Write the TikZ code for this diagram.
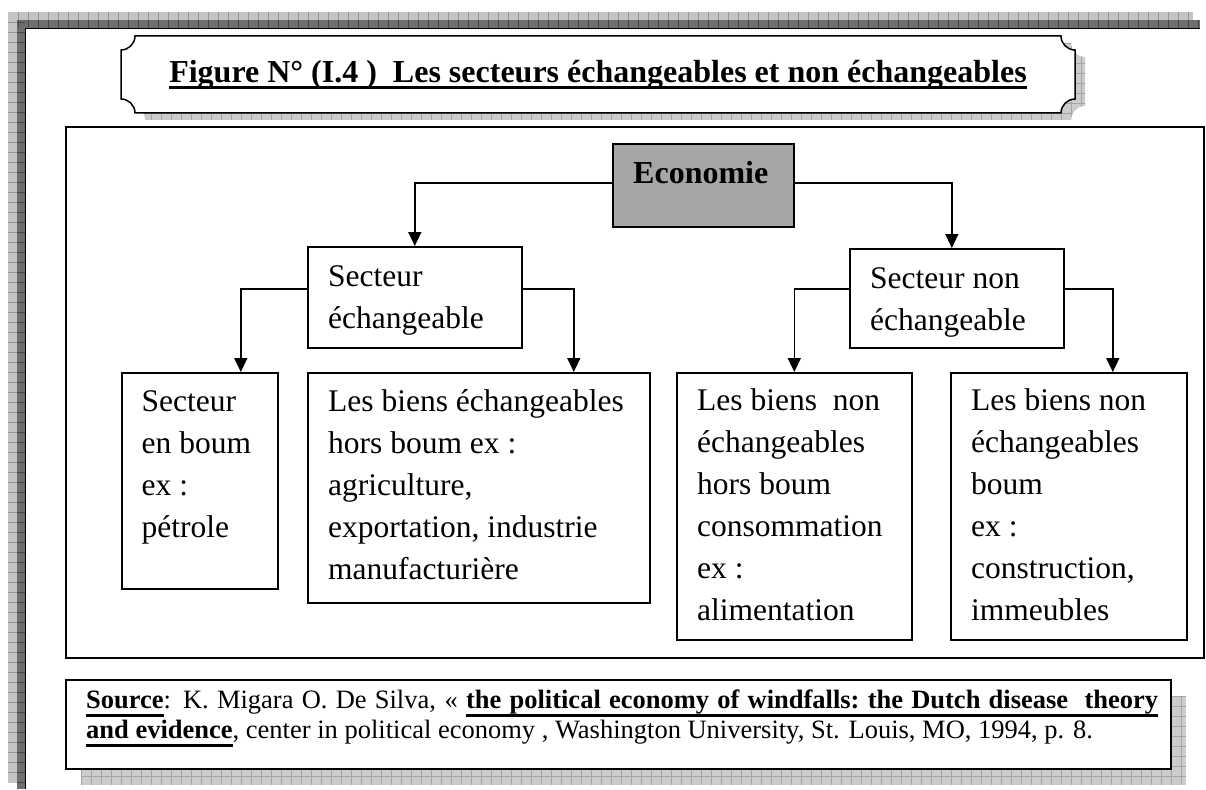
\documentclass[tikz,border=0pt]{standalone}
\usepackage{fontspec}
\setmainfont{Liberation Serif}
\usetikzlibrary{arrows.meta,calc}

\definecolor{bandlight}{RGB}{196,196,196}
\definecolor{banddark}{RGB}{110,110,110}
\definecolor{bandline}{RGB}{150,150,150}
\definecolor{bandlinedark}{RGB}{70,70,70}
\definecolor{shadefill}{RGB}{204,204,204}
\definecolor{shadeline}{RGB}{165,165,165}
\definecolor{econfill}{RGB}{166,166,166}

% underlining: a rule from \ultop to \ulbot below the baseline
\newdimen\ultop
\newdimen\ulbot
\newcommand\ulw[1]{\setbox0=\hbox{#1}\vrule width\wd0 height-\ultop depth\ulbot\kern-\wd0\box0}
\newcommand\ulsp{\leaders\vrule height-\ultop depth\ulbot
  \hskip\fontdimen2\font plus\fontdimen3\font minus\fontdimen4\font\relax}

% plaque outline (rectangle with concave rounded corners): x1,y1,x2,y2
\newcommand\plaque[4]{({#1+14},#2) -- ({#3-14},#2)
  .. controls ({#3-14},{#2+7.7}) and ({#3-7.7},{#2+14}) .. (#3,{#2+14})
  -- (#3,{#4-14})
  .. controls ({#3-7.7},{#4-14}) and ({#3-14},{#4-7.7}) .. ({#3-14},#4)
  -- ({#1+14},#4)
  .. controls ({#1+14},{#4-7.7}) and ({#1+7.7},{#4-14}) .. (#1,{#4-14})
  -- (#1,{#2+14})
  .. controls ({#1+7.7},{#2+14}) and ({#1+14},{#2+7.7}) .. ({#1+14},#2) -- cycle}

\begin{document}
\begin{tikzpicture}[x=1pt,y=-1pt,
  box/.style={draw, line width=1.6pt, inner sep=0pt, anchor=north west},
  txt/.style={anchor=north west, inner sep=0pt, align=left,
    font=\fontsize{31.5}{42}\selectfont},
  conn/.style={line width=1.5pt, -{Triangle[width=13pt,length=14pt]}},
  frame/.style={draw, line width=2.2pt, inner sep=0pt, anchor=north west},
  gridline/.style={shadeline, line width=0.7pt}]

\useasboundingbox (0,0) rectangle (1206,789);
\fill[white] (0,0) rectangle (1206,789);

% page border with shadow bands
\fill[bandlight] (8,12) rectangle (1193,20);
\fill[bandlight] (8,12) rectangle (17,783);
\fill[banddark] (17,20) rectangle (1200,28);
\fill[banddark] (17,20) rectangle (25,789);
\foreach \x in {18,28,...,1190} \draw[bandline, line width=0.7pt] (\x,12) -- (\x,20);
\foreach \x in {18,28,...,1198} \draw[bandlinedark, line width=0.7pt] (\x,20) -- (\x,28);
\foreach \y in {22,32,...,780} \draw[bandline, line width=0.7pt] (8,\y) -- (17,\y);
\foreach \y in {22,32,...,788} \draw[bandlinedark, line width=0.7pt] (17,\y) -- (25,\y);
\draw[line width=1.2pt] (25.5,789) -- (25.5,28.5) -- (1200,28.5);

% title plaque with its shadow
\begin{scope}
  \clip \plaque{131}{43}{1085}{120};
  \fill[shadefill] (120,30) rectangle (1100,130);
  \foreach \x in {131,141,...,1091} \draw[gridline] (\x,30) -- (\x,130);
  \foreach \y in {43,53,...,123} \draw[gridline] (120,\y) -- (1100,\y);
\end{scope}
\filldraw[fill=white, draw=black, line width=1.5pt] \plaque{121}{36}{1075}{113};
\node[anchor=base, inner sep=0pt, font=\fontsize{32}{38}\selectfont\bfseries] (title) at (598,83)
  {\ultop=3.5pt\ulbot=6.5pt%
   \ulw{Figure N° (I.4 )\ \ Les secteurs échangeables et non échangeables}};

% main frame
\node[frame, minimum width=1138pt, minimum height=531pt] (main) at (65,126) {};

% boxes
\node[box, fill=econfill, minimum width=181pt, minimum height=83pt] (econ) at (612,143) {};
\node[box, minimum width=214pt, minimum height=101pt] (sech) at (307,246) {};
\node[box, minimum width=214pt, minimum height=99pt] (snech) at (849,248) {};
\node[box, minimum width=156pt, minimum height=216pt] (boum) at (121,372) {};
\node[box, minimum width=342pt, minimum height=230pt] (bech) at (307,372) {};
\node[box, minimum width=235pt, minimum height=267pt] (bnhb) at (676,372) {};
\node[box, minimum width=236pt, minimum height=267pt] (bnb) at (950,372) {};

% texts
\node[anchor=base west, inner sep=0pt, font=\fontsize{32}{38}\selectfont\bfseries] (econt) at (633,183) {Economie};
\node[txt] (secht) at (328,263) {\rule{0pt}{23pt}Secteur\\échangeable};
\node[txt] (snecht) at (870,265) {\rule{0pt}{23pt}Secteur non\\échangeable};
\node[txt] (boumt) at (141.5,388) {\rule{0pt}{23pt}Secteur\\en boum\\ex :\\pétrole};
\node[txt] (becht) at (328,388) {\rule{0pt}{23pt}Les biens échangeables\\hors boum ex :\\agriculture,\\exportation, industrie\\manufacturière};
\node[txt] (bnhbt) at (697,387) {\rule{0pt}{23pt}Les biens\ \ non\\échangeables\\hors boum\\consommation\\ex :\\alimentation};
\node[txt] (bnbt) at (971,387) {\rule{0pt}{23pt}Les biens non\\échangeables\\boum\\ex :\\construction,\\immeubles};

% connectors
\draw[conn] ([yshift=2.5pt]econ.west) -| (sech.north);
\draw[conn] ([yshift=2.5pt]econ.east) -| ([xshift=-5pt]snech.north);
\draw[conn] ([yshift=8.5pt]sech.west) -| ([xshift=41pt]boum.north);
\draw[conn] ([yshift=8.5pt]sech.east) -| ([xshift=95pt]bech.north);
\draw[conn] ([yshift=9.5pt]snech.west) -| (bnhb.north);
\draw[conn] ([yshift=9.5pt]snech.east) -| ([xshift=44pt]bnb.north);

% source box with shadow
\begin{scope}
  \clip (81,696) rectangle (1186,785);
  \fill[shadefill] (81,696) rectangle (1186,785);
  \foreach \x in {81,91,...,1186} \draw[gridline] (\x,696) -- (\x,785);
  \foreach \y in {696,706,...,785} \draw[gridline] (81,\y) -- (1186,\y);
\end{scope}
\node[frame, fill=white, minimum width=1105pt, minimum height=89pt] (srcbox) at (65,679) {};
\node[anchor=north west, inner sep=0pt, text width=1072pt, align=justify,
  font=\fontsize{26.5}{30}\selectfont] (src) at (86,688)
  {\ultop=6pt\ulbot=8.5pt%
   \rule{0pt}{20pt}\textbf{\ulw{Source}}: K. Migara O. De Silva, « \textbf{\ulw{the}\ulsp\ulw{political}\ulsp\ulw{economy}\ulsp\ulw{of}\ulsp\ulw{windfalls:}\ulsp\ulw{the}\ulsp\ulw{Dutch}\ulsp\ulw{disease}\ulsp\ulsp\ulw{theory}}\linebreak
   \textbf{\ulw{and}\ulsp\ulw{evidence}}, center in political economy , Washington University, St. Louis, MO, 1994, p. 8.};

\end{tikzpicture}
\end{document}
